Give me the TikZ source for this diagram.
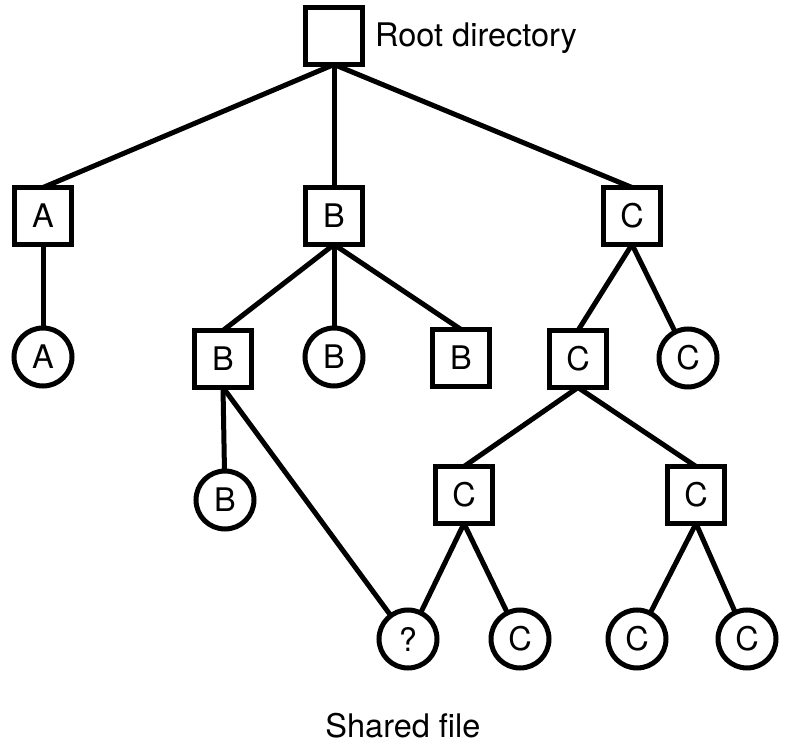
\documentclass[tikz,border=0pt]{standalone}
\usepackage{fontspec}
\setmainfont{TeX Gyre Heros}
\usetikzlibrary{positioning}
\begin{document}
\begin{tikzpicture}[
    x=1pt, y=-1pt,
    dir/.style={rectangle, draw=black, line width=5pt, minimum size=57pt,
                inner sep=0pt, outer sep=0pt, font=\fontsize{32.5}{38}\selectfont},
    file/.style={circle, draw=black, line width=5pt, minimum size=58pt,
                 inner sep=0pt, outer sep=0pt, font=\fontsize{32.5}{38}\selectfont},
    edge/.style={line width=5pt},
    caption/.style={inner sep=0pt, font=\fontsize{32.5}{38}\selectfont},
]
\useasboundingbox (0,0) rectangle (788,746);

%% Directories
\node[dir] (root)  at (334,36)  {};
\node[dir] (dirA)  at (43,216)  {A};
\node[dir] (dirB)  at (334,216) {B};
\node[dir] (dirC)  at (632,216) {C};
\node[dir] (dirBa) at (223,359) {B};
\node[dir] (dirBb) at (461,358) {B};
\node[dir] (dirCa) at (578,359) {C};
\node[dir] (dirCb) at (464,495) {C};
\node[dir] (dirCc) at (696,495) {C};

%% Files
\node[file] (fileA)  at (43,357)  {A};
\node[file] (fileB)  at (334,357) {B};
\node[file] (fileC)  at (688,358) {C};
\node[file] (fileBa) at (225,500) {B};
\node[file] (shared) at (408,639) {?};
\node[file] (fileCa) at (520,639) {C};
\node[file] (fileCb) at (637,639) {C};
\node[file] (fileCc) at (747,639) {C};

%% Labels
\node[caption, anchor=base west] (rootlabel)   at (375,47)  {Root directory};
\node[caption, anchor=base]      (sharedlabel) at (403,737) {Shared file};

%% Edges
\draw[edge] (root.south)  -- (dirA.north);
\draw[edge] (root.south)  -- (dirB.north);
\draw[edge] (root.south)  -- (dirC.north);
\draw[edge] (dirA.south)  -- (fileA);
\draw[edge] (dirB.south)  -- (dirBa.north);
\draw[edge] (dirB.south)  -- (fileB);
\draw[edge] (dirB.south)  -- (dirBb.north);
\draw[edge] (dirC.south)  -- (dirCa.north);
\draw[edge] (dirC.south)  -- (fileC);
\draw[edge] (dirBa.south) -- (fileBa);
\draw[edge] (dirBa.south) -- (shared);
\draw[edge] (dirCa.south) -- (dirCb.north);
\draw[edge] (dirCa.south) -- (dirCc.north);
\draw[edge] (dirCb.south) -- (shared);
\draw[edge] (dirCb.south) -- (fileCa);
\draw[edge] (dirCc.south) -- (fileCb);
\draw[edge] (dirCc.south) -- (fileCc);
\end{tikzpicture}
\end{document}
